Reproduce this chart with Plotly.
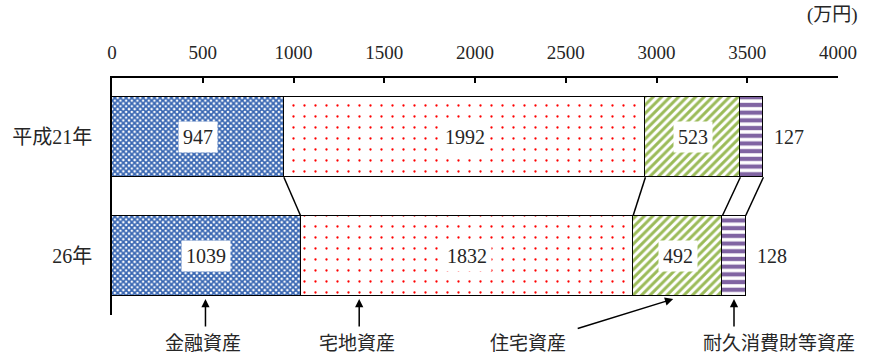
import plotly.graph_objects as go

# Household assets per household (10,000 yen), by survey year
years = ["平成21年", "26年"]
categories = ["金融資産", "宅地資産", "住宅資産", "耐久消費財等資産"]
financial = [947, 1039]
land = [1992, 1832]
housing = [523, 492]
durables = [127, 128]
x_ticks = [0, 500, 1000, 1500, 2000, 2500, 3000, 3500, 4000]

series = [financial, land, housing, durables]
styles = [
    dict(shape="x", fgcolor="#3866B2", bgcolor="#FFFFFF", size=4, solidity=0.7),
    dict(shape=".", fgcolor="#FF0000", bgcolor="#FFFFFF", size=11, solidity=0.035),
    dict(shape="/", fgcolor="#9BBB59", bgcolor="#FFFFFF", size=6, solidity=0.5),
    dict(shape="-", fgcolor="#8064A2", bgcolor="#FFFFFF", size=7.7, solidity=0.55),
]

BAR_W = 0.675
ypos = list(range(len(years)))
NUM_FONT = "Liberation Serif, Noto Sans CJK JP"
TXT = "#262626"

fig = go.Figure()
for name, vals, st in zip(categories, series, styles):
    fig.add_trace(go.Bar(
        y=ypos, x=vals, name=name, orientation="h", width=BAR_W,
        marker=dict(color="#FFFFFF", pattern=dict(fillmode="replace", **st),
                    line=dict(color="#000000", width=1.5)),
        hoverinfo="x+name",
    ))

# cumulative boundaries of each bar
cums = []
for i in range(len(years)):
    acc, row = 0, []
    for vals in series:
        acc += vals[i]
        row.append(acc)
    cums.append(row)

annotations = []
# value labels: inside segments on white boxes, last segment outside
for i in range(len(years)):
    start = 0
    for k, vals in enumerate(series):
        v = vals[i]
        mid = start + v / 2
        if k < len(series) - 1:
            annotations.append(dict(x=mid, y=ypos[i], xref="x", yref="y", text=str(v),
                                    showarrow=False, bgcolor="#FFFFFF", borderpad=4,
                                    font=dict(family=NUM_FONT, size=20, color=TXT)))
        else:
            annotations.append(dict(x=start + v, y=ypos[i], xref="x", yref="y", text=str(v),
                                    showarrow=False, xanchor="left", xshift=9,
                                    font=dict(family=NUM_FONT, size=20, color=TXT)))
        start += v

# connector lines between the two bars
shapes = []
for a, b in zip(cums[0], cums[1]):
    shapes.append(dict(type="line", xref="x", yref="y",
                       x0=a, y0=ypos[0] + BAR_W / 2, x1=b, y1=ypos[1] - BAR_W / 2,
                       line=dict(color="#000000", width=1.5)))

# category callouts beneath the chart
callouts = [
    # (label, label x, arrow tip x, arrow dx, arrow dy)
    ("金融資産", 500, 515, 0, 29),
    ("宅地資産", 1350, 1362, 0, 29),
    ("住宅資産", 2290, 3092, -97, 30),
    ("耐久消費財等資産", 3675, 3427, 0, 29),
]
for label, lx, tx, dx, dy in callouts:
    annotations.append(dict(x=tx, y=1.365, xref="x", yref="y", text="",
                            showarrow=True, ax=dx, ay=dy, axref="pixel", ayref="pixel",
                            arrowhead=2, arrowsize=1.1, arrowwidth=1.5, arrowcolor="#000000"))
    annotations.append(dict(x=lx, y=-0.178, xref="x", yref="paper", text=label,
                            showarrow=False, yanchor="bottom",
                            font=dict(family="Noto Sans CJK JP", size=19, color=TXT)))

annotations.append(dict(x=1.03, y=1.265, xref="paper", yref="paper", text="(万円)",
                        showarrow=False, xanchor="right", yanchor="middle",
                        font=dict(family=NUM_FONT, size=19, color=TXT)))

fig.update_layout(
    width=869, height=358,
    margin=dict(l=112, r=28, t=78, b=43),
    paper_bgcolor="#FFFFFF", plot_bgcolor="#FFFFFF",
    barmode="stack", bargap=0, showlegend=False,
    annotations=annotations, shapes=shapes,
    xaxis=dict(side="top", range=[0, 4000], tickvals=x_ticks,
               ticktext=[str(t) for t in x_ticks],
               showline=True, linecolor="#000000", linewidth=1.5,
               ticks="inside", ticklen=5, tickwidth=1.5, tickcolor="#000000",
               showgrid=False, zeroline=False, ticklabelstandoff=10,
               tickfont=dict(family=NUM_FONT, size=19, color=TXT)),
    yaxis=dict(range=[1.5, -0.5], tickvals=ypos, ticktext=years,
               showline=True, linecolor="#000000", linewidth=1.5,
               ticks="", showgrid=False, zeroline=False, ticklabelstandoff=14,
               tickfont=dict(family=NUM_FONT, size=20, color=TXT)),
)

fig.write_html("out.html")
